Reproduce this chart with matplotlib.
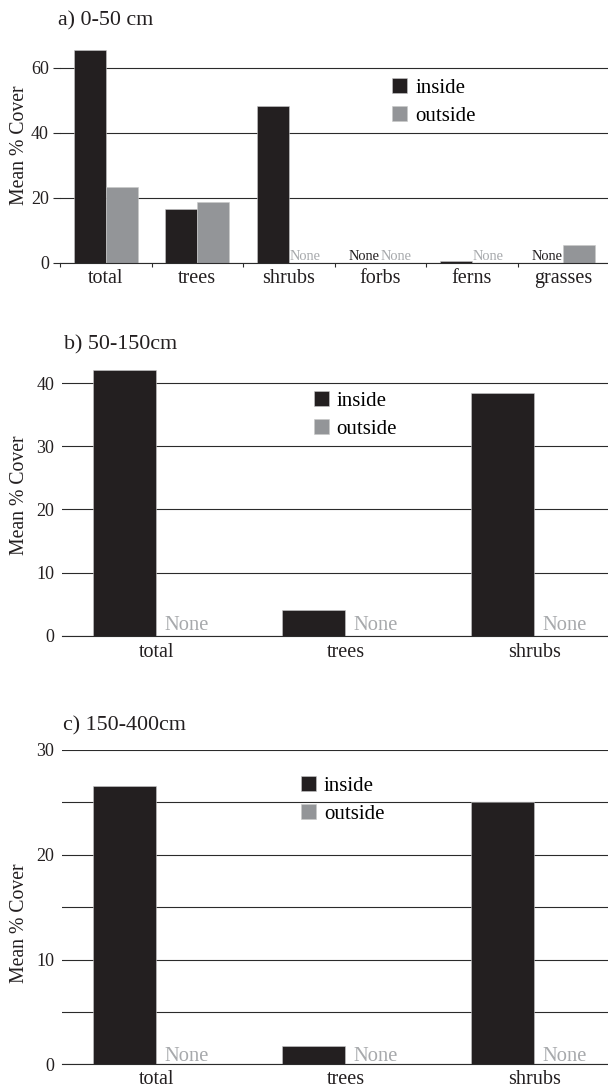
import numpy as np
import matplotlib
matplotlib.use("Agg")
import matplotlib.pyplot as plt
from matplotlib.patches import Patch

plt.rcParams['font.family'] = ['Liberation Serif', 'DejaVu Serif']

# ---- data -------------------------------------------------------------
series_names = ['inside', 'outside']
ylabel_text = 'Mean % Cover'

title_a = 'a) 0-50 cm'
cats_a = ['total', 'trees', 'shrubs', 'forbs', 'ferns', 'grasses']
inside_a = [65.5, 16.6, 48.1, None, 0.6, None]
outside_a = [23.1, 18.6, None, None, None, 5.3]
yticks_a = [0, 20, 40, 60]

title_b = 'b) 50-150cm'
cats_b = ['total', 'trees', 'shrubs']
inside_b = [42.1, 4.1, 38.4]
outside_b = [None, None, None]
yticks_b = [0, 10, 20, 30, 40]

title_c = 'c) 150-400cm'
cats_c = ['total', 'trees', 'shrubs']
inside_c = [26.6, 1.7, 25.0]
outside_c = [None, None, None]
yticks_c = [0, 5, 10, 15, 20, 25, 30]
ylabels_c = ['0', '', '10', '', '20', '', '30']

# ---- styling ----------------------------------------------------------
W, H = 608, 1091
INSIDE = '#231f20'
OUTSIDE = '#939598'
NONE_GREY = '#a7a9ac'
LINE = '#2b2b2b'

fig = plt.figure(figsize=(W / 100, H / 100), dpi=100)


def px_rect(left, top, right, bottom):
    return [left / W, 1 - bottom / H, (right - left) / W, (bottom - top) / H]


def draw_panel(rect, cats, inside, outside, ylim, yticks, ylabels, title,
               title_xy, legend_xy, ylabel_y, width, none_size, none_dx,
               none_dy, ytick_len, ytick_pad, xlab_pad, boundary_ticks):
    ax = fig.add_axes(rect)
    x = np.arange(len(cats))
    vals_in = np.array([np.nan if v is None else v for v in inside], float)
    vals_out = np.array([np.nan if v is None else v for v in outside], float)

    for vals, color, off, ncol in ((vals_in, INSIDE, -width / 2, INSIDE),
                                   (vals_out, OUTSIDE, width / 2, NONE_GREY)):
        ok = ~np.isnan(vals)
        ax.bar(x[ok] + off, vals[ok], width, color=color,
               edgecolor='#c9c9c9', linewidth=0.4, zorder=3)
        for xi in x[~ok]:
            ax.annotate('None', (xi + off - width / 2, 0),
                        xytext=(none_dx, none_dy), textcoords='offset points',
                        ha='left', va='baseline', fontsize=none_size,
                        color=ncol, zorder=4)

    ax.set_xlim(-0.5, len(cats) - 0.5)
    ax.set_ylim(*ylim)
    ax.set_yticks(yticks)
    ax.set_yticklabels(ylabels if ylabels is not None else [str(t) for t in yticks])
    ax.set_xticks(x)
    ax.set_xticklabels(cats)
    ax.tick_params(axis='x', length=0, pad=xlab_pad, labelsize=14.5, colors='#231f20')
    if boundary_ticks:
        ax.set_xticks(np.arange(-0.5, len(cats) - 0.5), minor=True)
        ax.tick_params(axis='x', which='minor', length=3, width=0.8, color=LINE,
                       direction='out')
    ax.tick_params(axis='y', length=ytick_len, width=0.8, color=LINE,
                   pad=ytick_pad, labelsize=13, labelcolor='#231f20')
    ax.yaxis.grid(True, color=LINE, linewidth=0.8)
    ax.set_axisbelow(True)
    for s in ('left', 'right', 'top'):
        ax.spines[s].set_visible(False)
    ax.spines['bottom'].set_color(LINE)
    ax.spines['bottom'].set_linewidth(0.8)
    ax.spines['bottom'].set_zorder(5)

    fig.text(title_xy[0] / W, 1 - title_xy[1] / H, title, fontsize=15.8,
             ha='left', va='baseline', color='#231f20')
    fig.text(19.5 / W, 1 - ylabel_y / H, ylabel_text, rotation=90,
             fontsize=14.2, ha='center', va='center', color='#231f20')

    handles = [Patch(facecolor=INSIDE, edgecolor='#c9c9c9', linewidth=0.4),
               Patch(facecolor=OUTSIDE, edgecolor='#c9c9c9', linewidth=0.4)]
    ax.legend(handles, series_names, loc='center left',
              bbox_to_anchor=(legend_xy[0] / W, 1 - legend_xy[1] / H),
              bbox_transform=fig.transFigure, frameon=False, fontsize=15,
              handlelength=0.71, handleheight=0.72, handletextpad=0.38,
              labelspacing=0.42, borderpad=0, borderaxespad=0)
    return ax


# a) 0-50 cm
draw_panel(px_rect(60, 35, 609, 262.5), cats_a, inside_a, outside_a,
           (0, 70), yticks_a, None, title_a, (58, 25), (392.4, 102), 145,
           0.35, 10.4, 0.5, 1.8, 5, 3.0, 5.0, True)

# b) 50-150cm
draw_panel(px_rect(62, 351.7, 629, 635.7), cats_b, inside_b, outside_b,
           (0, 45), yticks_b, None, title_b, (64, 349), (314, 415), 495,
           0.338, 14.8, 5.5, 4.0, 0, 5.5, 5.5, False)

# c) 150-400cm
draw_panel(px_rect(62, 750, 629, 1064.3), cats_c, inside_c, outside_c,
           (0, 30), yticks_c, ylabels_c, title_c, (63, 730), (301.3, 800), 923,
           0.338, 14.8, 5.5, 2.2, 0, 5.5, 4.0, False)

fig.savefig('out.png', dpi=100)
